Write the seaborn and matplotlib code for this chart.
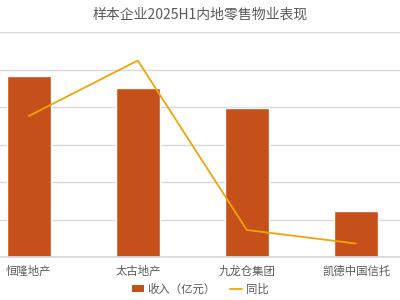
import matplotlib
matplotlib.use("Agg")
import matplotlib.pyplot as plt
import seaborn as sns
import numpy as np
import pandas as pd
from matplotlib.patches import Patch
from matplotlib.lines import Line2D

categories = ["恒隆地产", "太古地产", "九龙仓集团", "凯德中国信托"]
revenue = [24.1, 22.6, 19.9, 6.2]          # 收入（亿元）
yoy = [-0.6, 3.1, -8.2, -9.1]              # 同比 (%)

title = "样本企业2025H1内地零售物业表现"
legend_labels = ["收入（亿元）", "同比"]

sns.set_theme(style="white")
plt.rcParams['font.family'] = ['Noto Sans CJK SC', 'DejaVu Sans']

bar_color = "#C5501A"
line_color = "#EFA508"
text_color = "#595959"
grid_color = "#D9D9D9"

fig = plt.figure(figsize=(4, 3), dpi=100)
ax = fig.add_axes([0, 43/300, 1, 225/300])

df = pd.DataFrame({"cat": categories, "rev": revenue})
sns.barplot(data=df, x="cat", y="rev", color=bar_color, width=0.4,
            saturation=1, ax=ax, zorder=2)
ax.set_xlim(-28.8/109, (400-28.8)/109)
ax.set_ylim(0, 30)
ax.set_yticks(np.arange(0, 31, 5))
ax.yaxis.grid(True, color=grid_color, linewidth=1)
ax.set_axisbelow(True)
for s in ["left", "right", "top"]:
    ax.spines[s].set_visible(False)
ax.spines["bottom"].set_color(grid_color)
ax.set_xlabel("")
ax.set_ylabel("")
ax.set_yticklabels([])
ax.tick_params(axis="y", length=0)
ax.tick_params(axis="x", length=0, pad=6, labelsize=8.2, labelcolor=text_color)

ax2 = ax.twinx()
sns.lineplot(x=np.arange(len(categories)), y=yoy, ax=ax2, color=line_color,
             linewidth=1.3, sort=False)
ax2.set_ylim(-10, 5)
ax2.set_yticks([])
ax2.set_ylabel("")
for s in ax2.spines.values():
    s.set_visible(False)

fig.text(0.5, 1 - 15/300, title, ha="center", va="center",
         fontsize=10, color=text_color)

handles = [Patch(facecolor=bar_color, edgecolor="none"),
           Line2D([0], [0], color=line_color, linewidth=1.3)]
fig.legend(handles, legend_labels, loc="center", bbox_to_anchor=(0.5, 1 - 289/300),
           ncol=2, frameon=False, fontsize=8.2, labelcolor=text_color,
           handlelength=1.1, handleheight=0.6, handletextpad=0.3, columnspacing=1.2)

fig.savefig("out.png", dpi=100)
